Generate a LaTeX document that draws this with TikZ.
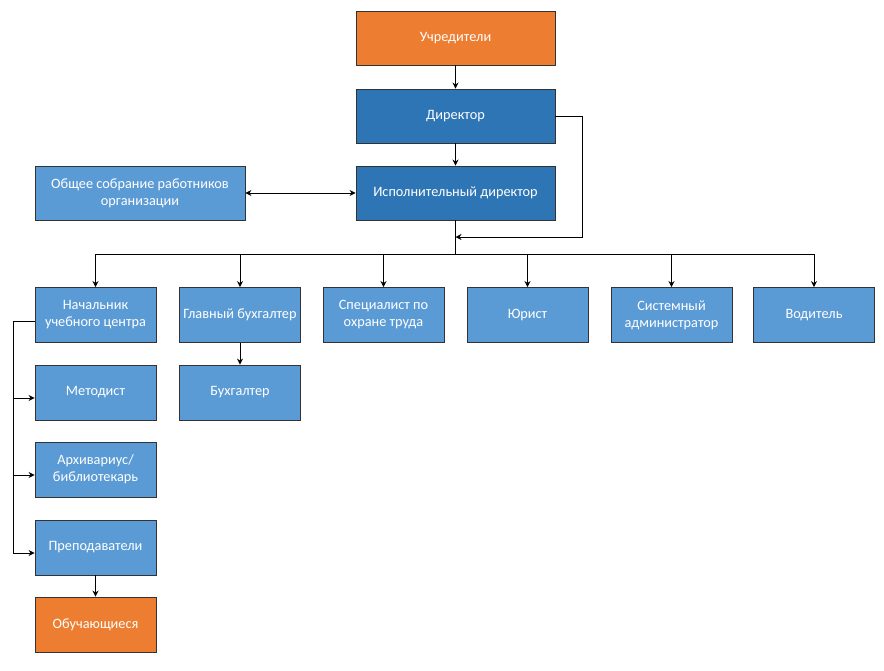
\documentclass[tikz,border=0pt]{standalone}
\usepackage{fontspec}
\setmainfont{Carlito}
\usetikzlibrary{arrows.meta}
\definecolor{orng}{HTML}{ED7D31}
\definecolor{dblue}{HTML}{2E75B6}
\definecolor{lblue}{HTML}{5B9BD5}
\begin{document}
\begin{tikzpicture}[x=1pt,y=-1pt,
  box/.style={draw=black!80,line width=0.9pt,text=white,align=center,inner sep=1pt,
    font=\fontsize{14.3}{17}\selectfont,minimum height=55pt,minimum width=121pt},
  orbox/.style={box,fill=orng},
  dbox/.style={box,fill=dblue,minimum width=199pt,minimum height=54pt},
  lbox/.style={box,fill=lblue},
  conn/.style={line width=0.9pt,black},
  arr/.style={conn,-{Stealth[length=6pt,width=6pt]}}]
\useasboundingbox (0,0) rectangle (884,670);
% top
\node[dbox,fill=orng] (uch) at (455.5,38) {Учредители};
\node[dbox] (dir) at (455.5,116) {Директор};
\node[dbox] (exec) at (455.5,193) {Исполнительный директор};
\node[lbox,minimum width=210pt,minimum height=54pt] (obs) at (140,193) {Общее собрание работников\\организации};
% row
\node[lbox] (nach) at (95.5,315) {Начальник\\учебного центра};
\node[lbox] (gb) at (240,315) {Главный бухгалтер};
\node[lbox] (spec) at (383.5,315) {Специалист по\\охране труда};
\node[lbox] (jur) at (527.5,315) {Юрист};
\node[lbox] (sys) at (671.5,315) {Системный\\администратор};
\node[lbox] (vod) at (814,315) {Водитель};
\node[lbox] (buh) at (240,392.5) {Бухгалтер};
% left column
\node[lbox] (met) at (95.5,392.5) {Методист};
\node[lbox] (arh) at (95.5,469.5) {Архивариус/\\библиотекарь};
\node[lbox] (prep) at (95.5,547.5) {Преподаватели};
\node[orbox] (obu) at (95.5,624.5) {Обучающиеся};
% connectors
\draw[arr] (uch.south) -- (dir.north);
\draw[arr] (dir.south) -- (exec.north);
\draw[conn,{Stealth[length=6pt,width=6pt]}-{Stealth[length=6pt,width=6pt]}] (obs.east) -- (exec.west);
\coordinate (dr1) at (582,116);
\coordinate (dr2) at (582,237);
\coordinate (dr3) at (455.5,237);
\draw[arr] (dir.east |- dr1) -- (dr1) -- (dr2) -- (dr3);
\coordinate (busc) at (455.5,254);
\coordinate (busl) at (95.5,254);
\coordinate (busr) at (814,254);
\draw[conn] (exec.south) -- (busc);
\draw[conn] (busl) -- (busr);
\foreach \n in {nach,gb,spec,jur,sys,vod}{
  \draw[arr] (busl -| \n.north) -- (\n.north);
}
\draw[arr] (gb.south) -- (buh.north);
\draw[arr] (prep.south) -- (obu.north);
% left bracket
\coordinate (lb1) at (13,321);
\coordinate (lb2) at (13,553);
\draw[conn] (nach.west |- lb1) -- (lb1) -- (lb2);
\draw[arr] (13,398) -- (met.west |- 0,398);
\draw[arr] (13,475) -- (arh.west |- 0,475);
\draw[arr] (lb2) -- (prep.west |- lb2);
\end{tikzpicture}
\end{document}
